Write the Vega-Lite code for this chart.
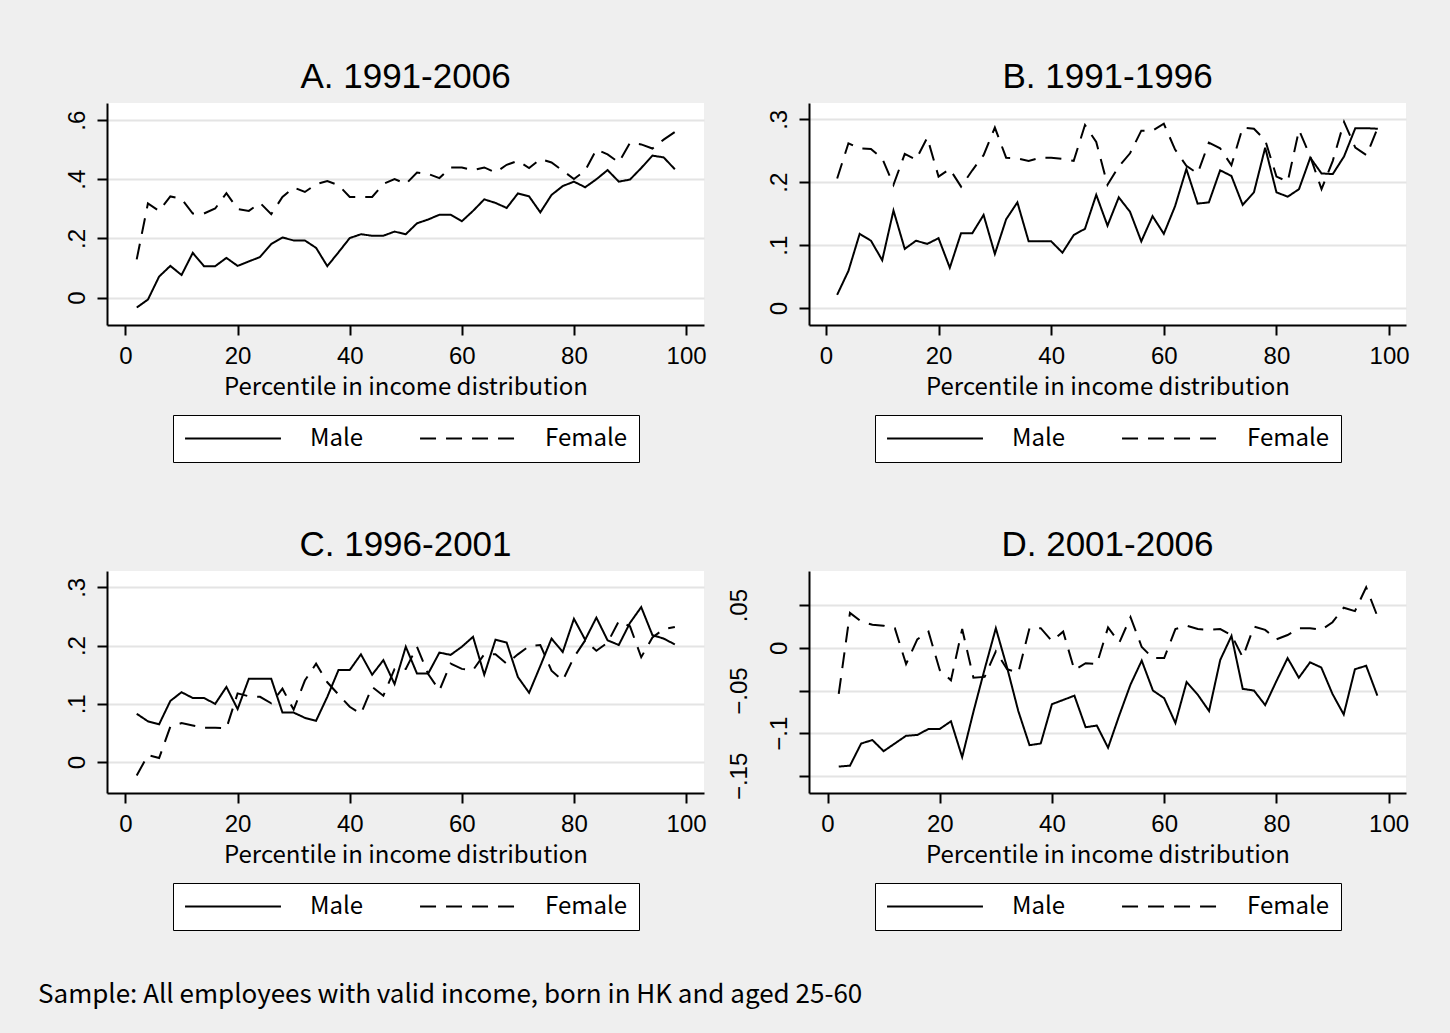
{
"$schema": "https://vega.github.io/schema/vega-lite/v6.json",
"background": "#efefef",
"padding": {"left": 38, "top": 60, "right": 41, "bottom": 27},
"config": {
  "view": {"fill": "white", "stroke": null},
  "axis": {"domainColor": "black", "domainWidth": 2, "tickColor": "black", "tickWidth": 2, "tickSize": 10,
           "labelFont": "Liberation Sans", "labelFontSize": 24, "labelColor": "black",
           "titleFont": "Noto Sans CJK JP", "titleFontSize": 24, "titleFontWeight": "normal", "titleColor": "black",
           "gridColor": "#e4e4e4", "gridWidth": 2},
  "axisX": {"grid": false, "labelPadding": 9, "titlePadding": 7},
  "axisY": {"grid": true, "labelAngle": 270, "labelPadding": 8, "title": null},
  "title": {"font": "Liberation Sans", "fontSize": 35, "fontWeight": "normal", "color": "black", "offset": 8},
  "legend": {"orient": "bottom", "direction": "horizontal", "title": null, "symbolType": "stroke", "symbolSize": 9200,
             "symbolStrokeWidth": 2, "symbolStrokeColor": "black", "strokeColor": "black", "fillColor": "white",
             "padding": 11, "labelFont": "Noto Sans CJK JP", "labelFontSize": 24, "labelColor": "black",
             "labelOffset": 28, "columnPadding": 55, "offset": 16, "clipHeight": 25,
             "layout": {"bottom": {"anchor": "middle"}}}
},
"datasets": {
  "A": [
    {"p":2,"Male":-0.034,"Female":0.129},{"p":4,"Male":-0.007,"Female":0.318},{"p":6,"Male":0.071,"Female":0.293},
    {"p":8,"Male":0.107,"Female":0.342},{"p":10,"Male":0.076,"Female":0.334},{"p":12,"Male":0.151,"Female":0.284},
    {"p":14,"Male":0.106,"Female":0.284},{"p":16,"Male":0.106,"Female":0.301},{"p":18,"Male":0.134,"Female":0.353},
    {"p":20,"Male":0.107,"Female":0.299},{"p":22,"Male":0.122,"Female":0.293},{"p":24,"Male":0.137,"Female":0.320},
    {"p":26,"Male":0.181,"Female":0.282},{"p":28,"Male":0.203,"Female":0.340},{"p":30,"Male":0.193,"Female":0.372},
    {"p":32,"Male":0.193,"Female":0.357},{"p":34,"Male":0.168,"Female":0.383},{"p":36,"Male":0.106,"Female":0.394},
    {"p":38,"Male":0.153,"Female":0.380},{"p":40,"Male":0.201,"Female":0.340},{"p":42,"Male":0.214,"Female":0.340},
    {"p":44,"Male":0.209,"Female":0.340},{"p":46,"Male":0.209,"Female":0.384},{"p":48,"Male":0.223,"Female":0.401},
    {"p":50,"Male":0.214,"Female":0.384},{"p":52,"Male":0.251,"Female":0.423},{"p":54,"Male":0.264,"Female":0.418},
    {"p":56,"Male":0.280,"Female":0.404},{"p":58,"Male":0.280,"Female":0.440},{"p":60,"Male":0.258,"Female":0.440},
    {"p":62,"Male":0.293,"Female":0.431},{"p":64,"Male":0.332,"Female":0.440},{"p":66,"Male":0.320,"Female":0.423},
    {"p":68,"Male":0.303,"Female":0.449},{"p":70,"Male":0.352,"Female":0.462},{"p":72,"Male":0.342,"Female":0.438},
    {"p":74,"Male":0.288,"Female":0.468},{"p":76,"Male":0.347,"Female":0.457},{"p":78,"Male":0.377,"Female":0.429},
    {"p":80,"Male":0.392,"Female":0.401},{"p":82,"Male":0.373,"Female":0.429},{"p":84,"Male":0.400,"Female":0.501},
    {"p":86,"Male":0.431,"Female":0.484},{"p":88,"Male":0.392,"Female":0.457},{"p":90,"Male":0.399,"Female":0.523},
    {"p":92,"Male":0.438,"Female":0.518},{"p":94,"Male":0.480,"Female":0.504},{"p":96,"Male":0.474,"Female":0.534},
    {"p":98,"Male":0.434,"Female":0.560}
  ],
  "B": [
    {"p":2,"Male":0.021,"Female":0.206},{"p":4,"Male":0.059,"Female":0.262},{"p":6,"Male":0.118,"Female":0.254},
    {"p":8,"Male":0.107,"Female":0.253},{"p":10,"Male":0.076,"Female":0.238},{"p":12,"Male":0.155,"Female":0.196},
    {"p":14,"Male":0.094,"Female":0.245},{"p":16,"Male":0.107,"Female":0.236},{"p":18,"Male":0.102,"Female":0.271},
    {"p":20,"Male":0.111,"Female":0.209},{"p":22,"Male":0.064,"Female":0.221},{"p":24,"Male":0.119,"Female":0.193},
    {"p":26,"Male":0.119,"Female":0.219},{"p":28,"Male":0.148,"Female":0.243},{"p":30,"Male":0.086,"Female":0.287},
    {"p":32,"Male":0.141,"Female":0.239},{"p":34,"Male":0.168,"Female":0.238},{"p":36,"Male":0.106,"Female":0.234},
    {"p":38,"Male":0.106,"Female":0.239},{"p":40,"Male":0.106,"Female":0.239},{"p":42,"Male":0.088,"Female":0.237},
    {"p":44,"Male":0.116,"Female":0.234},{"p":46,"Male":0.126,"Female":0.291},{"p":48,"Male":0.180,"Female":0.264},
    {"p":50,"Male":0.131,"Female":0.196},{"p":52,"Male":0.176,"Female":0.225},{"p":54,"Male":0.153,"Female":0.246},
    {"p":56,"Male":0.106,"Female":0.282},{"p":58,"Male":0.146,"Female":0.282},{"p":60,"Male":0.118,"Female":0.293},
    {"p":62,"Male":0.162,"Female":0.252},{"p":64,"Male":0.221,"Female":0.226},{"p":66,"Male":0.166,"Female":0.214},
    {"p":68,"Male":0.168,"Female":0.263},{"p":70,"Male":0.219,"Female":0.254},{"p":72,"Male":0.210,"Female":0.227},
    {"p":74,"Male":0.164,"Female":0.287},{"p":76,"Male":0.184,"Female":0.285},{"p":78,"Male":0.255,"Female":0.267},
    {"p":80,"Male":0.184,"Female":0.209},{"p":82,"Male":0.177,"Female":0.201},{"p":84,"Male":0.189,"Female":0.283},
    {"p":86,"Male":0.239,"Female":0.241},{"p":88,"Male":0.214,"Female":0.189},{"p":90,"Male":0.213,"Female":0.234},
    {"p":92,"Male":0.241,"Female":0.296},{"p":94,"Male":0.286,"Female":0.255},{"p":96,"Male":0.286,"Female":0.243},
    {"p":98,"Male":0.285,"Female":0.287}
  ],
  "C": [
    {"p":2,"Male":0.083,"Female":-0.023},{"p":4,"Male":0.070,"Female":0.012},{"p":6,"Male":0.065,"Female":0.007},
    {"p":8,"Male":0.105,"Female":0.061},{"p":10,"Male":0.120,"Female":0.067},{"p":12,"Male":0.110,"Female":0.063},
    {"p":14,"Male":0.110,"Female":0.059},{"p":16,"Male":0.100,"Female":0.059},{"p":18,"Male":0.129,"Female":0.058},
    {"p":20,"Male":0.091,"Female":0.118},{"p":22,"Male":0.143,"Female":0.113},{"p":24,"Male":0.143,"Female":0.112},
    {"p":26,"Male":0.143,"Female":0.101},{"p":28,"Male":0.085,"Female":0.126},{"p":30,"Male":0.085,"Female":0.090},
    {"p":32,"Male":0.076,"Female":0.140},{"p":34,"Male":0.071,"Female":0.169},{"p":36,"Male":0.112,"Female":0.137},
    {"p":38,"Male":0.158,"Female":0.116},{"p":40,"Male":0.158,"Female":0.095},{"p":42,"Male":0.185,"Female":0.083},
    {"p":44,"Male":0.150,"Female":0.129},{"p":46,"Male":0.175,"Female":0.114},{"p":48,"Male":0.134,"Female":0.160},
    {"p":50,"Male":0.198,"Female":0.160},{"p":52,"Male":0.152,"Female":0.198},{"p":54,"Male":0.152,"Female":0.151},
    {"p":56,"Male":0.188,"Female":0.123},{"p":58,"Male":0.184,"Female":0.169},{"p":60,"Male":0.198,"Female":0.160},
    {"p":62,"Male":0.215,"Female":0.158},{"p":64,"Male":0.150,"Female":0.185},{"p":66,"Male":0.210,"Female":0.185},
    {"p":68,"Male":0.205,"Female":0.169},{"p":70,"Male":0.146,"Female":0.185},{"p":72,"Male":0.119,"Female":0.199},
    {"p":74,"Male":0.165,"Female":0.201},{"p":76,"Male":0.212,"Female":0.157},{"p":78,"Male":0.189,"Female":0.140},
    {"p":80,"Male":0.246,"Female":0.180},{"p":82,"Male":0.210,"Female":0.209},{"p":84,"Male":0.248,"Female":0.191},
    {"p":86,"Male":0.209,"Female":0.205},{"p":88,"Male":0.201,"Female":0.242},{"p":90,"Male":0.239,"Female":0.233},
    {"p":92,"Male":0.266,"Female":0.180},{"p":94,"Male":0.218,"Female":0.214},{"p":96,"Male":0.212,"Female":0.228},
    {"p":98,"Male":0.202,"Female":0.232}
  ],
  "D": [
    {"p":2,"Male":-0.139,"Female":-0.054},{"p":4,"Male":-0.138,"Female":0.041},{"p":6,"Male":-0.112,"Female":0.031},
    {"p":8,"Male":-0.108,"Female":0.027},{"p":10,"Male":-0.121,"Female":0.026},{"p":12,"Male":-0.112,"Female":0.023},
    {"p":14,"Male":-0.103,"Female":-0.019},{"p":16,"Male":-0.102,"Female":0.010},{"p":18,"Male":-0.095,"Female":0.019},
    {"p":20,"Male":-0.095,"Female":-0.026},{"p":22,"Male":-0.086,"Female":-0.038},{"p":24,"Male":-0.128,"Female":0.022},
    {"p":26,"Male":-0.075,"Female":-0.035},{"p":28,"Male":-0.025,"Female":-0.034},{"p":30,"Male":0.023,"Female":-0.004},
    {"p":32,"Male":-0.023,"Female":-0.025},{"p":34,"Male":-0.074,"Female":-0.029},{"p":36,"Male":-0.114,"Female":0.023},
    {"p":38,"Male":-0.112,"Female":0.023},{"p":40,"Male":-0.066,"Female":0.008},{"p":42,"Male":-0.061,"Female":0.019},
    {"p":44,"Male":-0.056,"Female":-0.026},{"p":46,"Male":-0.093,"Female":-0.018},{"p":48,"Male":-0.091,"Female":-0.019},
    {"p":50,"Male":-0.117,"Female":0.024},{"p":52,"Male":-0.079,"Female":0.006},{"p":54,"Male":-0.043,"Female":0.036},
    {"p":56,"Male":-0.015,"Female":0.001},{"p":58,"Male":-0.050,"Female":-0.012},{"p":60,"Male":-0.059,"Female":-0.012},
    {"p":62,"Male":-0.088,"Female":0.022},{"p":64,"Male":-0.040,"Female":0.026},{"p":66,"Male":-0.055,"Female":0.022},
    {"p":68,"Male":-0.074,"Female":0.021},{"p":70,"Male":-0.014,"Female":0.022},{"p":72,"Male":0.014,"Female":0.015},
    {"p":74,"Male":-0.048,"Female":-0.011},{"p":76,"Male":-0.050,"Female":0.025},{"p":78,"Male":-0.067,"Female":0.021},
    {"p":80,"Male":-0.039,"Female":0.010},{"p":82,"Male":-0.012,"Female":0.015},{"p":84,"Male":-0.035,"Female":0.023},
    {"p":86,"Male":-0.017,"Female":0.023},{"p":88,"Male":-0.023,"Female":0.021},{"p":90,"Male":-0.054,"Female":0.030},
    {"p":92,"Male":-0.078,"Female":0.047},{"p":94,"Male":-0.025,"Female":0.043},{"p":96,"Male":-0.021,"Female":0.071},
    {"p":98,"Male":-0.056,"Female":0.037}
  ]
},
"title": {"text": "Sample: All employees with valid income, born in HK and aged 25-60", "orient": "bottom", "anchor": "start",
          "font": "Noto Sans CJK JP", "fontSize": 26, "offset": 51, "dx": -27},
"columns": 2,
"spacing": {"column": 19, "row": 65},
"concat": [
  {
    "width": 597, "height": 222,
    "title": "A. 1991-2006",
    "data": {"name": "A"},
    "transform": [{"fold": ["Male", "Female"], "as": ["sex", "val"]}],
    "mark": {"type": "line", "color": "black", "strokeWidth": 2},
    "encoding": {
      "x": {"field": "p", "type": "quantitative", "scale": {"domain": [-3.3, 103.2], "nice": false, "zero": false},
            "axis": {"values": [0, 20, 40, 60, 80, 100], "title": "Percentile in income distribution"}},
      "y": {"field": "val", "type": "quantitative", "scale": {"domain": [-0.093, 0.658], "nice": false, "zero": false},
            "axis": {"values": [0, 0.2, 0.4, 0.6], "labelExpr": "replace(format(datum.value, '.2~f'), '0.', '.')"}},
      "strokeDash": {"field": "sex", "type": "nominal", "scale": {"domain": ["Male", "Female"], "range": [[1, 0], [16, 10]]}}
    }
  },
  {
    "width": 597, "height": 222,
    "title": "B. 1991-1996",
    "data": {"name": "B"},
    "transform": [{"fold": ["Male", "Female"], "as": ["sex", "val"]}],
    "mark": {"type": "line", "color": "black", "strokeWidth": 2},
    "encoding": {
      "x": {"field": "p", "type": "quantitative", "scale": {"domain": [-3.0, 103.0], "nice": false, "zero": false},
            "axis": {"values": [0, 20, 40, 60, 80, 100], "title": "Percentile in income distribution"}},
      "y": {"field": "val", "type": "quantitative", "scale": {"domain": [-0.027, 0.326], "nice": false, "zero": false},
            "axis": {"values": [0, 0.1, 0.2, 0.3], "labelExpr": "replace(format(datum.value, '.2~f'), '0.', '.')"}},
      "strokeDash": {"field": "sex", "type": "nominal", "scale": {"domain": ["Male", "Female"], "range": [[1, 0], [16, 10]]}}
    }
  },
  {
    "width": 597, "height": 222,
    "title": "C. 1996-2001",
    "data": {"name": "C"},
    "transform": [{"fold": ["Male", "Female"], "as": ["sex", "val"]}],
    "mark": {"type": "line", "color": "black", "strokeWidth": 2},
    "encoding": {
      "x": {"field": "p", "type": "quantitative", "scale": {"domain": [-3.3, 103.2], "nice": false, "zero": false},
            "axis": {"values": [0, 20, 40, 60, 80, 100], "title": "Percentile in income distribution"}},
      "y": {"field": "val", "type": "quantitative", "scale": {"domain": [-0.053, 0.328], "nice": false, "zero": false},
            "axis": {"values": [0, 0.1, 0.2, 0.3], "labelExpr": "replace(format(datum.value, '.2~f'), '0.', '.')"}},
      "strokeDash": {"field": "sex", "type": "nominal", "scale": {"domain": ["Male", "Female"], "range": [[1, 0], [16, 10]]}}
    }
  },
  {
    "width": 597, "height": 222,
    "title": "D. 2001-2006",
    "data": {"name": "D"},
    "transform": [{"fold": ["Male", "Female"], "as": ["sex", "val"]}],
    "mark": {"type": "line", "color": "black", "strokeWidth": 2},
    "encoding": {
      "x": {"field": "p", "type": "quantitative", "scale": {"domain": [-3.3, 103.1], "nice": false, "zero": false},
            "axis": {"values": [0, 20, 40, 60, 80, 100], "title": "Percentile in income distribution"}},
      "y": {"field": "val", "type": "quantitative", "scale": {"domain": [-0.170, 0.090], "nice": false, "zero": false},
            "axis": {"values": [-0.15, -0.1, -0.05, 0, 0.05], "labelExpr": "replace(format(datum.value, '.2~f'), '0.', '.')",
                     "labelPadding": {"condition": {"test": "(abs(datum.value) > 0.04 && abs(datum.value) < 0.06) || datum.value < -0.12", "value": 48}, "value": 8}}},
      "strokeDash": {"field": "sex", "type": "nominal", "scale": {"domain": ["Male", "Female"], "range": [[1, 0], [16, 10]]}}
    }
  }
],
"resolve": {"scale": {"strokeDash": "independent"}}
}
